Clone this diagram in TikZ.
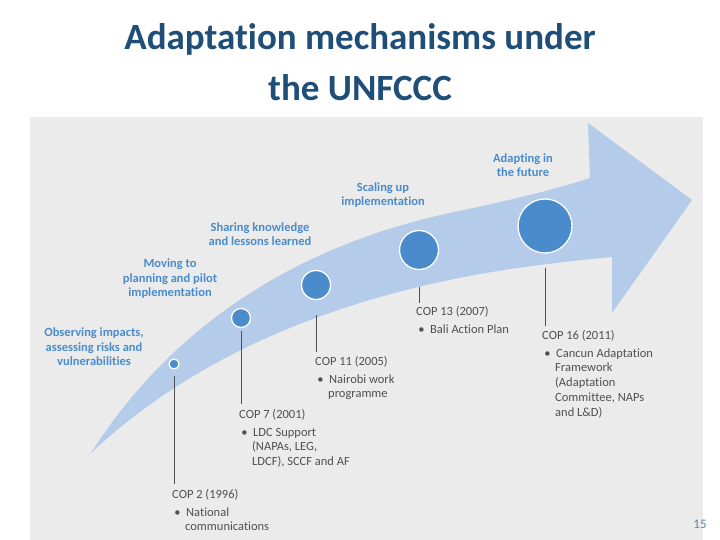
\documentclass[tikz,border=0pt]{standalone}
\usepackage{fontspec}
\setmainfont{Carlito}[Ligatures={NoCommon}]
\begin{document}
\begin{tikzpicture}[x=1pt,y=-1pt,
  stage/.style={text=stageblue,font=\fontsize{12.5}{14.5}\selectfont\bfseries,align=center,inner sep=0pt},
  cop/.style={text=copgrey,font=\fontsize{12.5}{14.8}\selectfont,align=left,anchor=north west,inner sep=0pt},
  dot/.style={circle,fill=dotblue,draw=white,line width=1.3pt,inner sep=0pt},
  stem/.style={draw=copgrey,line width=0.6pt}]
\definecolor{stageblue}{HTML}{4A8CCB}
\definecolor{dotblue}{HTML}{4A8CCB}
\definecolor{copgrey}{HTML}{505050}
\definecolor{arrowblue}{HTML}{B4CBE9}
\definecolor{panel}{HTML}{EBEBEB}
\definecolor{titleblue}{HTML}{1F4E79}
\useasboundingbox (0,0) rectangle (720,540);
\fill[white] (0,0) rectangle (720,540);
\fill[panel] (30,117) rectangle (703,540);
% arrow
\fill[arrowblue] (91,453) .. controls (150,360) and (260,250) .. (464,210)
  .. controls (520,198) and (560,188) .. (590,178) -- (588,123) -- (692,200) -- (612,313) -- (612,257)
  .. controls (560,262) and (510,268) .. (464,277)
  .. controls (320,305) and (190,360) .. cycle;
\node[text=titleblue,font=\fontsize{37}{51}\selectfont\bfseries,align=center] (title) at (360,62) {Adaptation mechanisms under\\the UNFCCC};
% dots
\node[dot,minimum size=10pt] (c1) at (174,364) {};
\node[dot,minimum size=19pt] (c2) at (241,318) {};
\node[dot,minimum size=29pt] (c3) at (316,285) {};
\node[dot,minimum size=39pt] (c4) at (419,250) {};
\node[dot,minimum size=54pt] (c5) at (545,226) {};
% stage labels
\node[stage] (s1) at (94,347) {Observing impacts,\\assessing risks and\\vulnerabilities};
\node[stage] (s2) at (170,279) {Moving to\\planning and pilot\\implementation};
\node[stage] (s3) at (260,234) {Sharing knowledge\\and lessons learned};
\node[stage] (s4) at (383,195) {Scaling up\\implementation};
\node[stage] (s5) at (523,165) {Adapting in\\the future};
% cop labels
\node[cop] (p1) at (172,489) {COP 2 (1996)\\[3pt]\,\textbullet\ \ National\\\hspace*{13pt}communications};
\node[cop] (p2) at (239,409) {COP 7 (2001)\\[3pt]\,\textbullet\ \ LDC Support\\\hspace*{13pt}(NAPAs, LEG,\\\hspace*{13pt}LDCF), SCCF and AF};
\node[cop] (p3) at (315,356) {COP 11 (2005)\\[3pt]\,\textbullet\ \ Nairobi work\\\hspace*{13pt}programme};
\node[cop] (p4) at (416,306) {COP 13 (2007)\\[3pt]\,\textbullet\ \ Bali Action Plan};
\node[cop] (p5) at (542,330) {COP 16 (2011)\\[3pt]\,\textbullet\ \ Cancun Adaptation\\\hspace*{13pt}Framework\\\hspace*{13pt}(Adaptation\\\hspace*{13pt}Committee, NAPs\\\hspace*{13pt}and L\&D)};
% stems
\draw[stem] (c1.south) ++(0,6) -- (174,484);
\draw[stem] (c2.south) ++(0,3) -- (241,404);
\draw[stem] (c3.south) ++(0,15) -- (316,352);
\draw[stem] (c4.south) ++(0,17) -- (419,303);
\draw[stem] (c5.south) ++(0,14) -- (545,326);
\node[text=titleblue!70,font=\fontsize{13}{15}\selectfont] (pg) at (700,524) {15};
\end{tikzpicture}
\end{document}
